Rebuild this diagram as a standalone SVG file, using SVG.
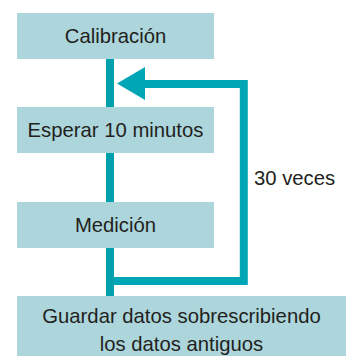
<svg xmlns="http://www.w3.org/2000/svg" width="356" height="356" viewBox="0 0 356 356">
<style>
.box{fill:#acd6dc}
.lbl{font-family:"Liberation Sans",Arial,sans-serif;font-size:20.3px;fill:#231f20}
.mid{text-anchor:middle}
.flow{stroke:#00a0ad;stroke-width:8;fill:none}
.loop{stroke:#00a6b6;stroke-width:8;fill:none}
</style>
<rect width="356" height="356" fill="#ffffff"/>
<g id="connectors">
<line class="flow" x1="110" y1="59" x2="110" y2="107"/>
<line class="flow" x1="110" y1="153" x2="110" y2="202"/>
<line class="flow" x1="110" y1="248" x2="110" y2="296"/>
<path class="loop" d="M114 281 H243.8 V84 H140"/>
<polygon points="117,83.5 145,67 145,100" fill="#00a6b6"/>
<text class="lbl" x="254" y="185">30 veces</text>
</g>
<g id="calibracion">
<rect class="box" x="17" y="13" width="197" height="46"/>
<text class="lbl mid" x="115.5" y="42.5">Calibración</text>
</g>
<g id="esperar">
<rect class="box" x="17" y="107" width="197" height="46"/>
<text class="lbl mid" x="115.5" y="137">Esperar 10 minutos</text>
</g>
<g id="medicion">
<rect class="box" x="17" y="202" width="197" height="46"/>
<text class="lbl mid" x="115.5" y="231.5">Medición</text>
</g>
<g id="guardar">
<rect class="box" x="17" y="296" width="329" height="60"/>
<text class="lbl mid" x="181.5" y="322.5">Guardar datos sobrescribiendo</text>
<text class="lbl mid" x="181.5" y="350.5">los datos antiguos</text>
</g>
</svg>
